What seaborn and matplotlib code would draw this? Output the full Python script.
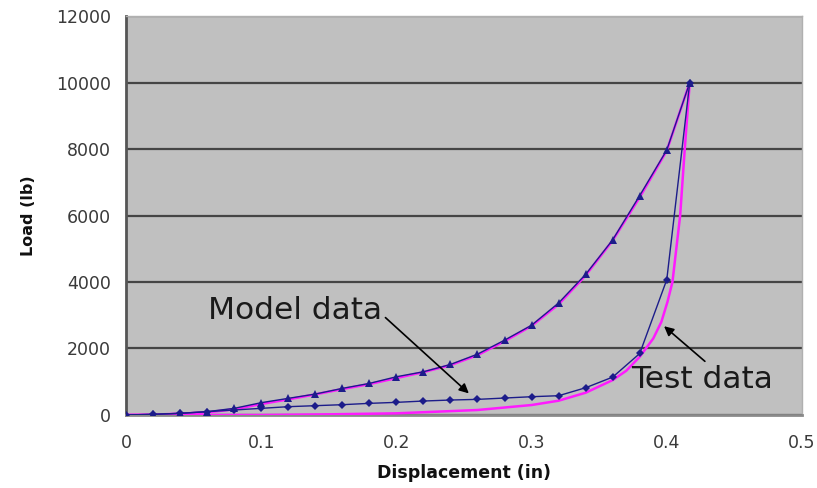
import matplotlib
matplotlib.use("Agg")
import matplotlib.pyplot as plt
import seaborn as sns

# model data (markers every 0.02 in)
model_x = [0.0, 0.02, 0.04, 0.06, 0.08, 0.10, 0.12, 0.14, 0.16, 0.18, 0.20,
           0.22, 0.24, 0.26, 0.28, 0.30, 0.32, 0.34, 0.36, 0.38, 0.40, 0.417]
model_load = [0, 20, 50, 100, 200, 370, 500, 630, 800, 950, 1150,
              1300, 1520, 1830, 2250, 2700, 3370, 4230, 5270, 6600, 7970, 10000]
model_unload = [0, 20, 50, 100, 150, 200, 250, 280, 310, 350, 380,
                420, 450, 470, 510, 550, 580, 820, 1140, 1850, 4070, 10000]

# test data
test_load_x = [0.0, 0.02, 0.04, 0.06, 0.08, 0.10, 0.12, 0.14, 0.16, 0.18, 0.20,
               0.22, 0.24, 0.26, 0.28, 0.30, 0.32, 0.34, 0.36, 0.38, 0.40, 0.417]
test_load = [0, 10, 40, 80, 170, 330, 470, 620, 780, 930, 1110,
             1290, 1500, 1800, 2220, 2680, 3330, 4200, 5250, 6550, 7950, 10000]
test_unload_x = [0.0, 0.05, 0.10, 0.15, 0.20, 0.26, 0.30, 0.32, 0.34, 0.36,
                 0.37, 0.38, 0.39, 0.396, 0.4005, 0.4042, 0.4099, 0.4133, 0.417]
test_unload = [0, 0, 0, 20, 50, 150, 300, 430, 670, 1050,
               1330, 1750, 2300, 2800, 3400, 4000, 6000, 8000, 10000]

xticks = [0, 0.1, 0.2, 0.3, 0.4, 0.5]
xtick_labels = ["0", "0.1", "0.2", "0.3", "0.4", "0.5"]
yticks = [0, 2000, 4000, 6000, 8000, 10000, 12000]

sns.set_style("white")
plt.rcParams["font.family"] = ["DejaVu Sans"]

NAVY = "#1c1c8a"
MAGENTA = "#ff1aff"

fig = plt.figure(figsize=(8.17, 4.88), dpi=100)
ax = fig.add_axes([0.1542, 0.1496, 0.8274, 0.8176])
ax.set_facecolor("#c0c0c0")

sns.lineplot(x=test_load_x, y=test_load, ax=ax, color=MAGENTA, lw=1.8,
             sort=False, estimator=None, zorder=3)
sns.lineplot(x=test_unload_x, y=test_unload, ax=ax, color=MAGENTA, lw=1.8,
             sort=False, estimator=None, zorder=3)
sns.lineplot(x=model_x, y=model_load, ax=ax, color=NAVY, lw=1.0, marker="^",
             markersize=6, markeredgewidth=0, sort=False, estimator=None, zorder=4)
sns.lineplot(x=model_x, y=model_unload, ax=ax, color=NAVY, lw=1.0, marker="D",
             markersize=4.5, markeredgewidth=0, sort=False, estimator=None, zorder=4)

ax.set_xlim(0, 0.5)
ax.set_ylim(0, 12000)
ax.set_xticks(xticks)
ax.set_xticklabels(xtick_labels)
ax.set_yticks(yticks)
ax.yaxis.grid(True, color="#454545", lw=1.6)
ax.xaxis.grid(False)
ax.set_axisbelow(True)

for side in ["top", "right"]:
    ax.spines[side].set_color("#b0b0b0")
    ax.spines[side].set_linewidth(1.0)
ax.spines["left"].set_color("#555555")
ax.spines["left"].set_linewidth(2.0)
ax.spines["bottom"].set_color("#8a8a8a")
ax.spines["bottom"].set_linewidth(2.0)

ax.tick_params(axis="both", direction="out", length=6, width=1.5,
               color="#666666", labelsize=12.5, labelcolor="#3a3a3a", pad=5)
ax.tick_params(axis="x", pad=8)

ax.set_xlabel("Displacement (in)", fontsize=12.5, fontweight="bold",
              color="#111111", labelpad=8)
ax.set_ylabel("Load (lb)", fontsize=11.5, fontweight="bold",
              color="#111111", labelpad=14)

ax.annotate("Model data", xy=(0.2536, 650), xytext=(0.0607, 3150),
            fontsize=22.5, color="#1a1a1a", va="center", ha="left",
            arrowprops=dict(arrowstyle="-|>", color="black", lw=1.2,
                            shrinkA=0, shrinkB=0, mutation_scale=14,
                            relpos=(1.0, 0.35)),
            zorder=6)
ax.annotate("Test data", xy=(0.398, 2670), xytext=(0.3733, 1080),
            fontsize=22.5, color="#1a1a1a", va="center", ha="left",
            arrowprops=dict(arrowstyle="-|>", color="black", lw=1.2,
                            shrinkA=0, shrinkB=0, mutation_scale=14,
                            relpos=(0.55, 1.0)),
            zorder=6)

fig.savefig("out.png", dpi=100)
